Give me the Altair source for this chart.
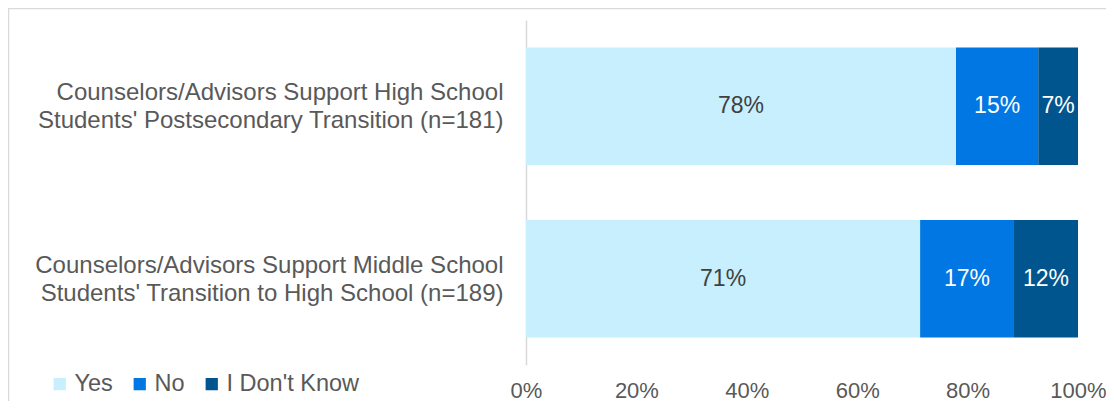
import altair as alt
import pandas as pd

# Categories (line breaks marked with "|")
categories = [
    "Counselors/Advisors Support High School|Students' Postsecondary Transition (n=181)",
    "Counselors/Advisors Support Middle School|Students' Transition to High School (n=189)",
]
responses = ["Yes", "No", "I Don't Know"]
yes_vals = [77.9, 71.4]
no_vals = [14.9, 17.0]
idk_vals = [7.2, 11.6]
colors = ["#C7EFFD", "#0077E2", "#00558F"]
tick_values = [0, 20, 40, 60, 80, 100]

rows = []
for i, cat in enumerate(categories):
    for j, (resp, vals) in enumerate(zip(responses, [yes_vals, no_vals, idk_vals])):
        rows.append({"category": cat, "response": resp, "value": vals[i], "order": j})
df = pd.DataFrame(rows)

FONT = "Liberation Sans"

y_enc = alt.Y(
    "category:N",
    sort=categories,
    title=None,
    scale=alt.Scale(paddingInner=0.319, paddingOuter=0.159),
    axis=alt.Axis(
        labelExpr="split(datum.label, '|')",
        labelFontSize=24,
        labelFont=FONT,
        labelColor="#595959",
        labelLineHeight=28,
        labelPadding=23,
        labelLimit=700,
        labelOffset=-13,
        ticks=False,
        tickSize=0,
        domainColor="#D9D9D9",
        domainWidth=1.5,
        labelBaseline="middle",
    ),
)

bars = alt.Chart(df).mark_bar().encode(
    y=y_enc,
    x=alt.X(
        "value:Q",
        stack="zero",
        title=None,
        scale=alt.Scale(domain=[0, 100], nice=False),
        axis=alt.Axis(
            values=tick_values,
            labelExpr="datum.value + '%'",
            labelFontSize=22,
            labelFont=FONT,
            labelColor="#595959",
            labelFlush=False,
            labelPadding=15,
            grid=False,
            domain=False,
            ticks=False,
            tickSize=0,
        ),
    ),
    color=alt.Color(
        "response:N",
        scale=alt.Scale(domain=responses, range=colors),
        legend=alt.Legend(
            title=None,
            orient="none",
            direction="horizontal",
            legendX=-478,
            legendY=352,
            symbolType="square",
            symbolSize=150,
            symbolStrokeWidth=0,
            labelFontSize=23.5,
            labelFont=FONT,
            labelColor="#595959",
            labelOffset=3,
            columnPadding=15,
            padding=0,
        ),
    ),
    order=alt.Order("order:Q"),
)

labels = (
    alt.Chart(df)
    .transform_stack(
        stack="value",
        groupby=["category"],
        sort=[alt.SortField("order", order="ascending")],
        as_=["x0", "x1"],
    )
    .transform_calculate(
        mid="(datum.x0 + datum.x1) / 2",
        label="format(datum.value, '.0f') + '%'",
    )
    .mark_text(fontSize=23, font=FONT, baseline="middle", align="center")
    .encode(
        y=alt.Y("category:N", sort=categories),
        x=alt.X("mid:Q"),
        text="label:N",
        color=alt.condition(
            alt.datum.response == "Yes", alt.value("#404040"), alt.value("#FFFFFF")
        ),
    )
)

frame = (
    alt.Chart(pd.DataFrame({"f": [0]}))
    .mark_rect(fillOpacity=0, stroke="#D9D9D9", strokeWidth=1.5)
    .encode(
        x=alt.value(-517.5),
        x2=alt.value(700),
        y=alt.value(-11.5),
        y2=alt.value(500),
    )
)

chart = (
    alt.layer(frame, bars, labels)
    .properties(
        width=552,
        height=345,
        autosize=alt.AutoSizeParams(type="none"),
        padding={"left": 518, "top": 12, "right": 28, "bottom": 36},
    )
    .configure_view(stroke=None)
)

chart.save("out.html", embed_options={"renderer": "svg", "actions": False})
